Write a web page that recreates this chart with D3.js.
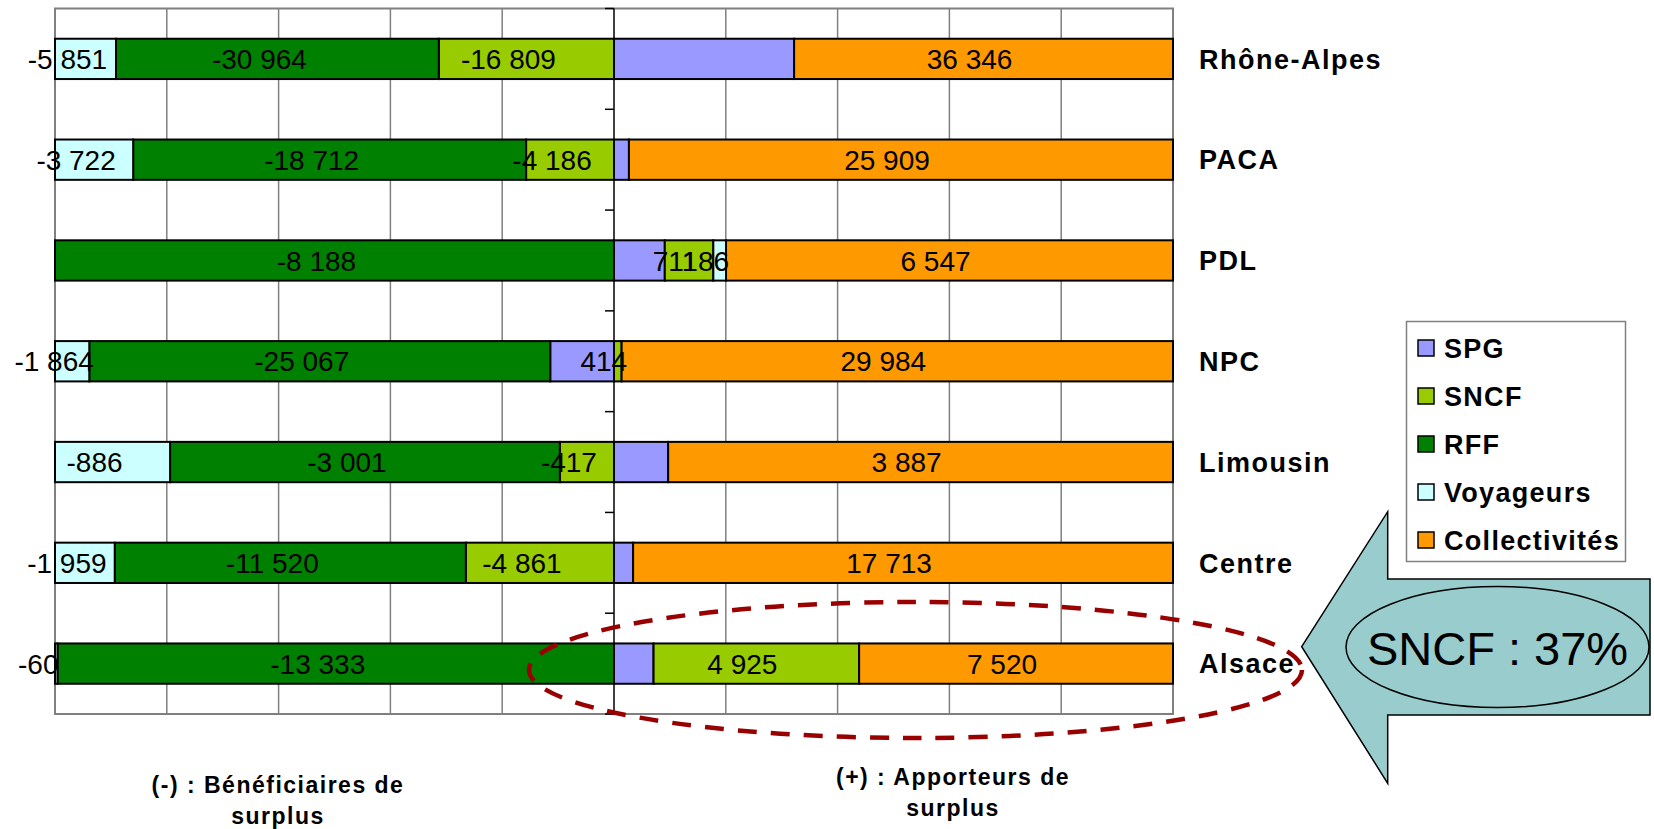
<!DOCTYPE html>
<html lang="fr">
<head>
<meta charset="UTF-8">
<title>Répartition du surplus par région</title>
<script src="https://cdn.jsdelivr.net/npm/d3@7"></script>
<style>
  body { margin: 0; background: #fff; }
  svg { display: block; font-family: "Liberation Sans", Arial, sans-serif; }
</style>
</head>
<body>
<svg id="chart" width="1654" height="829"></svg>
<script>
// categories, top to bottom
const regions = ["Rhône-Alpes", "PACA", "PDL", "NPC", "Limousin", "Centre", "Alsace"];
// series in legend / stacking order
const seriesNames = ["SPG", "SNCF", "RFF", "Voyageurs", "Collectivités"];
const spg = [17278, 711, 744, -3467, 417, 627, 948];
const sncf = [-16809, -4186, 711, 414, -417, -4861, 4925];
const rff = [-30964, -18712, -8188, -25067, -3001, -11520, -13333];
const voyageurs = [-5851, -3722, 186, -1864, -886, -1959, -60];
const collectivites = [36346, 25909, 6547, 29984, 3887, 17713, 7520];
const seriesColors = ["#9999ff", "#99cc00", "#008000", "#ccffff", "#ff9900"];
const labelled = [false, true, true, true, true];
const noteLeft = ["(-) : Bénéficiaires de", "surplus"];
const noteRight = ["(+) : Apporteurs de", "surplus"];
const calloutText = "SNCF : 37%";

const values = [spg, sncf, rff, voyageurs, collectivites];

const fmt = d3.formatLocale({
  decimal: ",", thousands: "\u00a0", grouping: [3], currency: ["", ""], minus: "-"
}).format(",d");

// each bar is split into its share of the positive (= negative) total
const rows = regions.map((r, i) => {
  const raw = {};
  seriesNames.forEach((s, k) => raw[s] = values[k][i]);
  const total = d3.sum(seriesNames, s => Math.max(raw[s], 0));
  const row = { region: r, raw };
  seriesNames.forEach(s => row[s] = raw[s] / total);
  return row;
});

const stacked = d3.stack().keys(seriesNames).offset(d3.stackOffsetDiverging)(rows);

const svg = d3.select("#chart");
const plotLeft = 55, plotRight = 1173, plotTop = 8.5, plotBottom = 714;

const x = d3.scaleLinear().domain([-1, 1]).range([plotLeft, plotRight]);
const y = d3.scaleBand().domain(regions).range([plotTop, plotBottom])
  .paddingInner(0.6).paddingOuter(0.3);

svg.append("rect").attr("width", 1654).attr("height", 829).attr("fill", "#fff");

// gridlines
svg.append("g")
  .selectAll("line")
  .data(x.ticks(10).filter(t => t !== 0))
  .join("line")
  .attr("x1", d => x(d)).attr("x2", d => x(d))
  .attr("y1", plotTop).attr("y2", plotBottom)
  .attr("stroke", "#808080").attr("stroke-width", 1.5);

svg.append("rect")
  .attr("x", plotLeft).attr("y", plotTop)
  .attr("width", plotRight - plotLeft).attr("height", plotBottom - plotTop)
  .attr("fill", "none").attr("stroke", "#808080").attr("stroke-width", 2);

// category axis on the zero line
const axis = svg.append("g");
axis.append("line")
  .attr("x1", x(0)).attr("x2", x(0)).attr("y1", plotTop).attr("y2", plotBottom)
  .attr("stroke", "#000").attr("stroke-width", 1.5);
axis.selectAll("line.tick")
  .data(d3.range(regions.length + 1))
  .join("line").attr("class", "tick")
  .attr("x1", x(0) - 9).attr("x2", x(0))
  .attr("y1", i => plotTop + i * y.step()).attr("y2", i => plotTop + i * y.step())
  .attr("stroke", "#000").attr("stroke-width", 1.5);

// bars
const layers = svg.append("g")
  .selectAll("g")
  .data(stacked)
  .join("g")
  .attr("fill", (d, i) => seriesColors[i]);

layers.selectAll("rect")
  .data(d => d)
  .join("rect")
  .attr("x", d => x(Math.min(d[0], d[1])))
  .attr("y", d => y(d.data.region))
  .attr("width", d => Math.abs(x(d[1]) - x(d[0])))
  .attr("height", y.bandwidth())
  .attr("stroke", "#000").attr("stroke-width", 2);

// data labels
const labels = svg.append("g")
  .attr("font-size", 28).attr("text-anchor", "middle").attr("fill", "#000");
stacked.forEach((layer, k) => {
  if (!labelled[k]) return;
  labels.selectAll(null)
    .data(layer)
    .join("text")
    .attr("x", d => x((d[0] + d[1]) / 2))
    .attr("dx", d => d.data.raw[layer.key] < 0 ? -18 : -14)
    .attr("y", d => y(d.data.region) + y.bandwidth() / 2)
    .attr("dy", "0.36em")
    .text(d => fmt(d.data.raw[layer.key]));
});

// category labels to the right
svg.append("g")
  .attr("font-size", 27).attr("font-weight", "bold").attr("letter-spacing", 1.5)
  .selectAll("text")
  .data(regions)
  .join("text")
  .attr("x", 1199)
  .attr("y", d => y(d) + y.bandwidth() / 2)
  .attr("dy", "0.36em")
  .text(d => d);

// bottom notes
function note(lines, cx, y0) {
  svg.append("text")
    .attr("font-size", 23).attr("font-weight", "bold").attr("letter-spacing", 1.5)
    .attr("text-anchor", "middle")
    .selectAll("tspan")
    .data(lines)
    .join("tspan")
    .attr("x", cx).attr("y", (d, i) => y0 + i * 31)
    .text(d => d);
}
note(noteLeft, 278, 793);
note(noteRight, 953, 785);

// callout arrow
svg.append("path")
  .attr("d", "M1301.7,646.7 L1387.7,511.7 L1387.7,579 L1650,579 L1650,715 L1387.7,715 L1387.7,783.3 Z")
  .attr("fill", "#99cccc").attr("stroke", "#000").attr("stroke-width", 1.5);
svg.append("ellipse")
  .attr("cx", 1497.5).attr("cy", 647).attr("rx", 151.5).attr("ry", 60.5)
  .attr("fill", "#99cccc").attr("stroke", "#000").attr("stroke-width", 1.5);
svg.append("text")
  .attr("x", 1497.5).attr("y", 665)
  .attr("text-anchor", "middle").attr("font-size", 47)
  .text(calloutText);

// legend
const legend = svg.append("g");
legend.append("rect")
  .attr("x", 1406.5).attr("y", 321.5).attr("width", 219).attr("height", 240)
  .attr("fill", "#fff").attr("stroke", "#808080").attr("stroke-width", 1.5);
const item = legend.selectAll("g.item")
  .data(seriesNames)
  .join("g").attr("class", "item")
  .attr("transform", (d, i) => `translate(1418,${348 + i * 48})`);
item.append("rect")
  .attr("x", 0).attr("y", -8).attr("width", 16).attr("height", 16)
  .attr("fill", (d, i) => seriesColors[i]).attr("stroke", "#000").attr("stroke-width", 1.5);
item.append("text")
  .attr("x", 26).attr("dy", "0.36em")
  .attr("font-size", 27).attr("font-weight", "bold").attr("letter-spacing", 1.3)
  .text(d => d);

// dashed highlight round Alsace
svg.append("ellipse")
  .attr("cx", 915.5).attr("cy", 670).attr("rx", 386.5).attr("ry", 68)
  .attr("fill", "none").attr("stroke", "#990000").attr("stroke-width", 4.5)
  .attr("stroke-dasharray", "19,14");
</script>
</body>
</html>
